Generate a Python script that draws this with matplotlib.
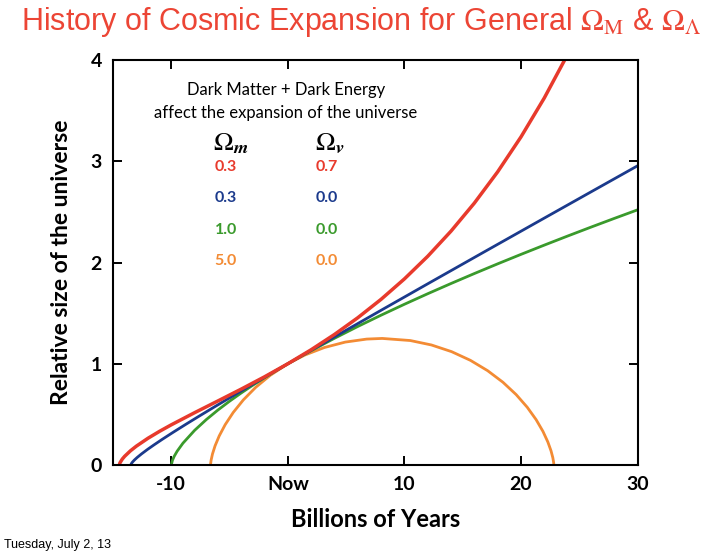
import matplotlib
matplotlib.use("Agg")
import matplotlib.pyplot as plt

# curves: time (billions of years, 0 = now) vs relative size
t_red = [-14.46, -14.4, -14.2, -14.0, -13.5, -13.0, -12.0, -11.0, -10.0, -8.0, -6.0, -4.0, -2.0,
         0.0, 2.0, 4.0, 6.0, 8.0, 10.0, 12.0, 14.0, 16.0, 18.0, 20.0, 22.0, 24.0]
a_red = [0.0, 0.0221, 0.0588, 0.0859, 0.1404, 0.1859, 0.2641, 0.3330, 0.3968, 0.5166, 0.6325, 0.7495, 0.8710,
         1.0, 1.1384, 1.2891, 1.4543, 1.6363, 1.8377, 2.0612, 2.3097, 2.5864, 2.8952, 3.2397, 3.6243, 4.0535]

t_blue = [-13.47, -13.453, -13.408, -13.318, -13.163, -12.919, -12.558, -12.043, -11.489, -10.779, -9.875,
          -8.736, -7.695, -6.465, -5.017, -3.313, -1.313, 0.0, 1.899, 4.791, 8.172, 12.121, 16.730,
          22.106, 26.177, 30.685]
a_blue = [0.0, 0.0071, 0.0164, 0.0302, 0.0494, 0.0751, 0.1091, 0.1535, 0.1982, 0.2532, 0.3205,
          0.4029, 0.4766, 0.5623, 0.6619, 0.7777, 0.9123, 1.0, 1.1263, 1.3173, 1.5393, 1.7973, 2.0970,
          2.4452, 2.7082, 2.9989]

t_green = [-10.0, -9.9, -9.75, -9.5, -9.0, -8.0, -7.0, -6.0, -5.0, -4.0, -3.0, -2.0, -1.0, 0.0,
           2.0, 4.0, 6.0, 8.0, 10.0, 12.0, 14.0, 16.0, 18.0, 20.0, 22.0, 24.0, 26.0, 28.0, 30.0]
a_green = [0.0, 0.0464, 0.0855, 0.1357, 0.2154, 0.3420, 0.4481, 0.5429, 0.6300, 0.7114, 0.7884, 0.8618, 0.9322, 1.0,
           1.1292, 1.2515, 1.3680, 1.4797, 1.5874, 1.6915, 1.7925, 1.8908, 1.9866, 2.0801, 2.1715, 2.2611,
           2.3489, 2.4351, 2.5198]

t_orange = [-6.63, -6.624, -6.580, -6.464, -6.242, -5.887, -5.374, -4.686, -3.815, -2.757, -1.517, 0.0,
            1.454, 3.142, 4.925, 6.771, 8.097, 10.506, 12.320, 14.051, 15.668, 17.143, 18.456, 19.591,
            20.540, 21.303, 21.887, 22.305, 22.580, 22.736, 22.805, 22.818, 22.823]
a_orange = [0.0, 0.0125, 0.0493, 0.1092, 0.1896, 0.2873, 0.3985, 0.5188, 0.6433, 0.7670, 0.8851, 1.0,
            1.0859, 1.1606, 1.2139, 1.2437, 1.25, 1.2293, 1.1855, 1.1194, 1.0335, 0.9314, 0.8171, 0.6951,
            0.5703, 0.4477, 0.3322, 0.2283, 0.1403, 0.0716, 0.0249, 0.0105, 0.0]

x_ticks = [-10, 0, 10, 20, 30]
x_labels = ["-10", "Now", "10", "20", "30"]
y_ticks = [0, 1, 2, 3, 4]

om_m = ["0.3", "0.3", "1.0", "5.0"]
om_v = ["0.7", "0.0", "0.0", "0.0"]

c_red = "#e83a2c"
c_blue = "#1b3a8c"
c_green = "#3a9a2c"
c_orange = "#f38b34"
colors = [c_red, c_blue, c_green, c_orange]

lab_font = ["Lato", "DejaVu Sans"]

fig = plt.figure(figsize=(7.14, 5.55), dpi=100)
ax = fig.add_axes([113 / 714, 1 - 465 / 555, 524.5 / 714, 405 / 555])

ax.plot(t_orange, a_orange, color=c_orange, lw=2.0, solid_capstyle="butt")
ax.plot(t_green, a_green, color=c_green, lw=2.0, solid_capstyle="butt")
ax.plot(t_blue, a_blue, color=c_blue, lw=2.0, solid_capstyle="butt")
ax.plot(t_red, a_red, color=c_red, lw=2.5, solid_capstyle="butt")

ax.set_xlim(-15, 30)
ax.set_ylim(0, 4)
ax.set_xticks(x_ticks)
ax.set_xticklabels(x_labels)
ax.set_yticks(y_ticks)
ax.tick_params(direction="in", length=6.5, width=1.4, top=True, right=True, pad=8,
               labelsize=14)
for lbl in ax.get_xticklabels() + ax.get_yticklabels():
    lbl.set_fontweight("bold")
    lbl.set_family(lab_font)
for sp in ax.spines.values():
    sp.set_linewidth(1.5)

ax.set_xlabel("Billions of Years", fontsize=17, fontweight="bold", family=lab_font, labelpad=11)
ax.set_ylabel("Relative size of the universe", fontsize=16.5, fontweight="bold", family=lab_font, labelpad=13)

tr = ax.transAxes
ax.text(0.33, 0.926, "Dark Matter + Dark Energy", transform=tr, ha="center", va="center",
        fontsize=12, family=lab_font)
ax.text(0.33, 0.869, "affect the expansion of the universe", transform=tr, ha="center", va="center",
        fontsize=12, family=lab_font)
ax.text(0.224, 0.795, r"$\Omega_{\boldsymbol{m}}$", transform=tr, ha="center", va="center",
        fontsize=19, math_fontfamily="stix")
ax.text(0.414, 0.795, r"$\Omega_{\boldsymbol{v}}$", transform=tr, ha="center", va="center",
        fontsize=19, math_fontfamily="stix")
rows_y = [0.736, 0.659, 0.580, 0.504]
for i in range(len(om_m)):
    ax.text(0.215, rows_y[i], om_m[i], transform=tr, ha="center", va="center", fontsize=11.5,
            fontweight="bold", color=colors[i], family=lab_font)
    ax.text(0.408, rows_y[i], om_v[i], transform=tr, ha="center", va="center", fontsize=11.5,
            fontweight="bold", color=colors[i], family=lab_font)

fig.text(0.506, 1 - 22 / 555,
         r"History of Cosmic Expansion for General $\Omega_{\mathrm{M}}$ & $\Omega_{\Lambda}$",
         ha="center", va="center", fontsize=22, color="#ec4535",
         family=["Liberation Sans", "DejaVu Sans"], math_fontfamily="stix")
fig.text(4 / 714, 1 - 545 / 555, "Tuesday, July 2, 13", ha="left", va="center", fontsize=9,
         family=["Liberation Sans", "DejaVu Sans"])

fig.savefig("out.png", dpi=100)
